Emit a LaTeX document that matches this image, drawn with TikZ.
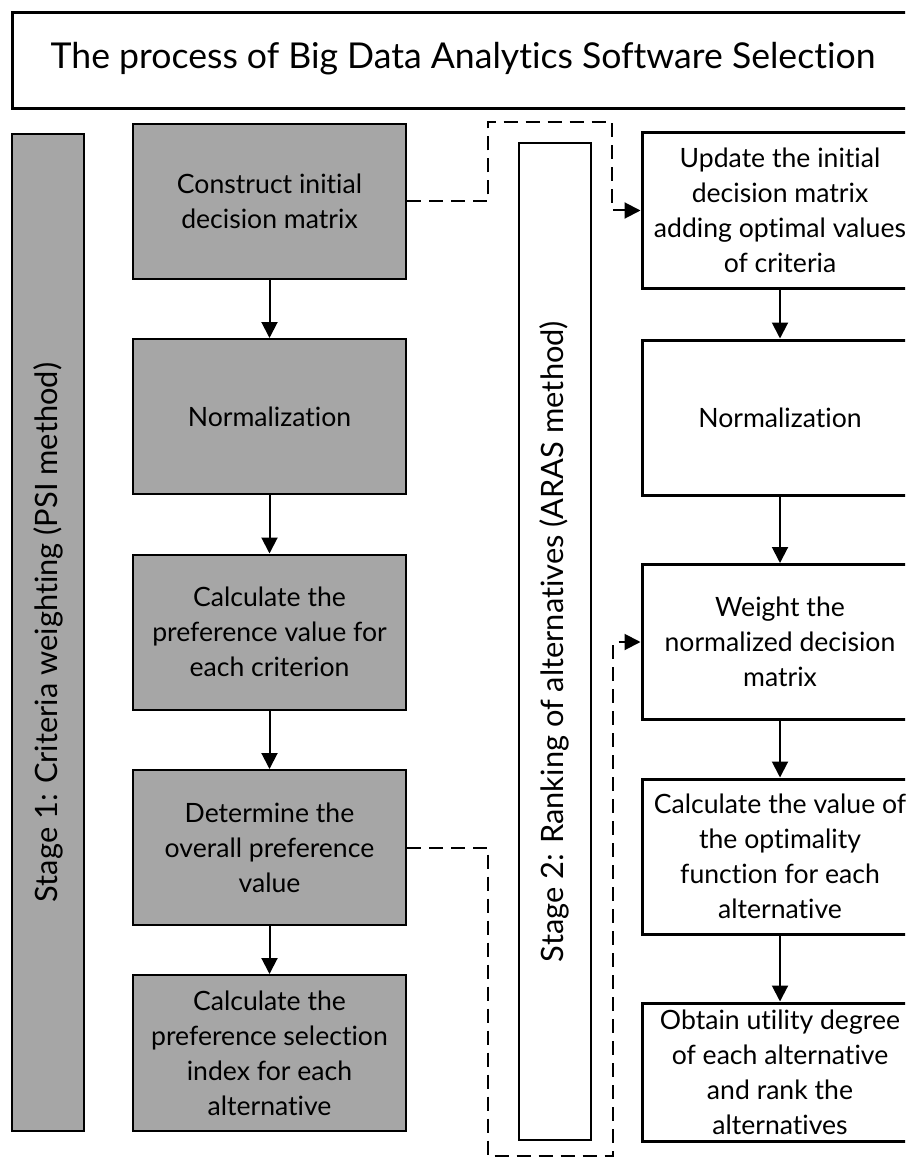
\documentclass[tikz,border=0pt]{standalone}
\usepackage{fontspec}
\setmainfont{Lato}[Ligatures=NoCommon]
\usetikzlibrary{arrows.meta}
\definecolor{boxgray}{RGB}{166,166,166}
\newcommand\ttlfont{\fontsize{35.6}{40}\selectfont}
\newcommand\bxfont{\fontsize{26.6}{35}\selectfont}
\newcommand\stgfont{\fontsize{30.8}{35}\selectfont}
\begin{document}
\begin{tikzpicture}[x=1pt,y=-1pt,
  gbox/.style={draw, line width=2pt, fill=boxgray, minimum width=273pt, minimum height=155pt, align=center, font=\bxfont, inner sep=0pt},
  wbox/.style={draw, line width=3pt, fill=white, minimum width=276pt, minimum height=155pt, align=center, font=\bxfont, inner sep=0pt},
  stagebar/.style={draw, line width=2pt, minimum width=72pt, minimum height=997pt, inner sep=0pt},
  stagetext/.style={rotate=90, font=\stgfont, inner sep=0pt},
  arr/.style={line width=2pt, -{Triangle[width=16pt,length=16pt]}},
  darr/.style={line width=2pt, dash pattern=on 14pt off 8pt, -{Triangle[width=16pt,length=16pt]}}
]
\useasboundingbox (0,0) rectangle (905,1158);
\clip (0,0) rectangle (905,1158);
\fill[white] (0,0) rectangle (905,1158);

% title
\node[draw, line width=3pt, minimum width=914pt, minimum height=96pt, inner sep=0pt, anchor=north west] (titlebox) at (11,11) {};
\node[font=\ttlfont, inner sep=0pt] (titletext) at (463,59) {The process of Big Data Analytics Software Selection};

% stage bars
\node[stagebar, fill=boxgray] (bar1) at (48,632.5) {};
\node[stagetext] (lab1) at (bar1.center) {Stage 1: Criteria weighting (PSI method)};
\node[stagebar, fill=white] (bar2) at (554.5,641.5) {};
\node[stagetext] (lab2) at (bar2.center) {Stage 2: Ranking of alternatives (ARAS method)};

% left column
\node[gbox] (c1) at (269.5,201.5) {Construct initial\\decision matrix};
\node[gbox] (c2) at (269.5,416.5) {Normalization};
\node[gbox] (c3) at (269.5,632) {Calculate the\\preference value for\\each criterion};
\node[gbox] (c4) at (269.5,847.5) {Determine the\\overall preference\\value};
\node[gbox, minimum height=156pt] (c5) at (269.5,1053) {Calculate the\\preference selection\\index for each\\alternative};

% right column
\node[wbox] (r1) at (780,210.5) {Update the initial\\decision matrix\\adding optimal values\\of criteria};
\node[wbox] (r2) at (780,417.5) {Normalization};
\node[wbox] (r3) at (780,642) {Weight the\\normalized decision\\matrix};
\node[wbox] (r4) at (780,856.5) {Calculate the value of\\the optimality\\function for each\\alternative};
\node[wbox, minimum height=138pt] (r5) at (780,1072) {Obtain utility degree\\of each alternative\\and rank the\\alternatives};

% solid arrows
\draw[arr] (c1) -- (c2);
\draw[arr] (c2) -- (c3);
\draw[arr] (c3) -- (c4);
\draw[arr] (c4) -- (c5);
\draw[arr] (r1) -- (r2);
\draw[arr] (r2) -- (r3);
\draw[arr] (r3) -- (r4);
\draw[arr] (r4) -- (r5);

% dashed connectors
\coordinate (d1a) at (488,201.5);
\coordinate (d1b) at (612,122);
\draw[darr] (c1.east) -- (d1a) |- (d1b) |- (r1.west);
\coordinate (d2a) at (488,847.5);
\coordinate (d2b) at (613,1156);
\draw[darr] (c4.east) -- (d2a) |- (d2b) |- (r3.west);
\end{tikzpicture}
\end{document}
